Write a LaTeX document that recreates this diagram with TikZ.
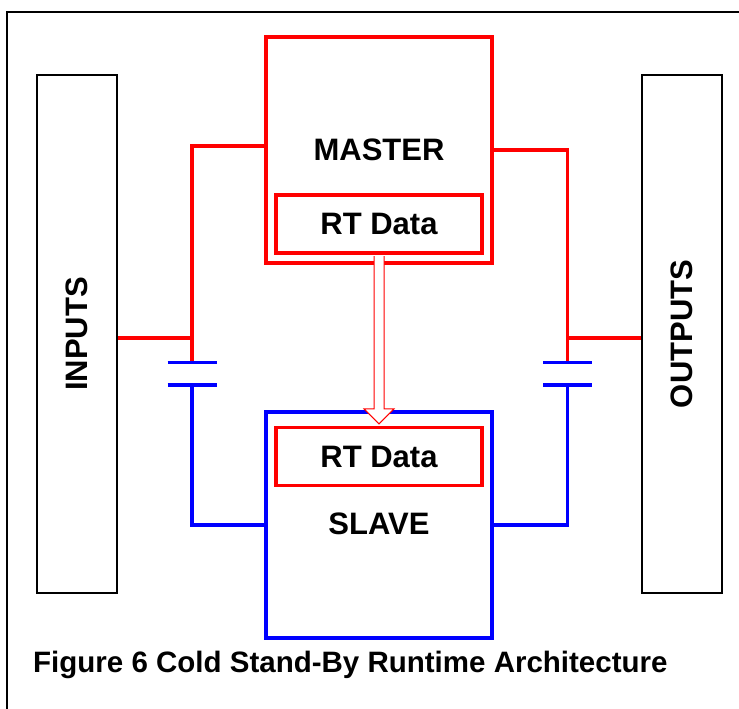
\documentclass[tikz,border=0pt]{standalone}
\usepackage{fontspec}
\setmainfont{Liberation Sans}
\usetikzlibrary{calc}

\tikzset{
  big/.style={font=\bfseries\fontsize{31}{32}\selectfont},
  unitbox/.style={line width=3.2pt, minimum width=226pt, minimum height=226pt, inner sep=0pt},
  iobox/.style={draw=black, line width=2pt, minimum width=80pt, minimum height=518pt, inner sep=0pt, big},
  rtbox/.style={draw=red, line width=3.2pt, minimum width=206pt, minimum height=58pt, inner sep=0pt, big},
  redwire/.style={draw=red, line width=3.2pt},
  bluewire/.style={draw=blue, line width=3.2pt},
  plate/.style={draw=blue, line width=3.6pt}
}

\begin{document}
\begin{tikzpicture}[x=1pt,y=-1pt]
  \useasboundingbox (0,0) rectangle (739,709);
  % frame
  \draw[line width=2.4pt] (7,709) -- (7,12) -- (739,12);

  % vertices
  \node[iobox] (inputs) at (77,334) {};
  \node[big, rotate=90] at (inputs.center) {INPUTS};
  \node[iobox] (outputs) at (682,334) {};
  \node[big, rotate=90] at (outputs.center) {OUTPUTS};

  \node[unitbox, draw=red] (master) at (379,150) {};
  \node[big] (mtitle) at (379,150) {MASTER};
  \node[rtbox] (mrt) at (379,224) {RT Data};

  \node[unitbox, draw=blue] (slave) at (379,525) {};
  \node[big] (stitle) at (379,524) {SLAVE};
  \node[rtbox] (srt) at (379,456.5) {RT Data};

  % junctions and capacitor plates
  \coordinate (lj) at (192,338);
  \coordinate (lc1) at (192,362.5);
  \coordinate (lc2) at (192,385);
  \coordinate (rj) at (567.5,338);
  \coordinate (rc1) at (567.5,362.5);
  \coordinate (rc2) at (567.5,385);

  % edges
  \draw[redwire] (inputs.east |- lj) -- (lj);
  \draw[redwire] (lc1) |- (master.west |- 0,146);
  \draw[redwire] (outputs.west |- rj) -- (rj);
  \draw[redwire] (rc1) |- (master.east |- 0,150);
  \draw[bluewire] (lc2) |- (slave.west);
  \draw[bluewire] (rc2) |- (slave.east);
  \foreach \c in {lc1,lc2,rc1,rc2}
    \draw[plate] ($(\c)+(-24.5,0)$) -- ($(\c)+(24.5,0)$);

  % hollow transfer arrow
  \draw[red, line width=1pt, fill=white]
    ($(mrt.south)+(-5,1.5)$) -- ($(srt.north)+(-5,-17)$) -- ($(srt.north)+(-15,-17)$)
    -- ($(srt.north)+(0,-2)$) -- ($(srt.north)+(15,-17)$) -- ($(srt.north)+(5,-17)$)
    -- ($(mrt.south)+(5,1.5)$);

  % caption
  \node[anchor=base west, inner sep=0pt, font=\bfseries\fontsize{29.5}{30}\selectfont] (caption) at (33,672)
    {Figure 6 Cold Stand-By Runtime Architecture};
\end{tikzpicture}
\end{document}
